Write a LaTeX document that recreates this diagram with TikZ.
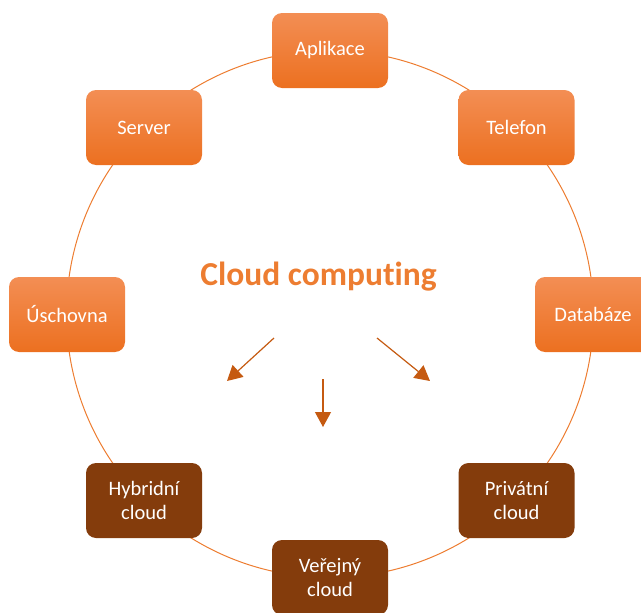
\documentclass[tikz,border=0pt]{standalone}
\usepackage{fontspec}
\setmainfont{Carlito}
\newfontfamily\titlefont{Carlito}[Ligatures=NoCommon]
\usetikzlibrary{arrows.meta}
\definecolor{ringc}{RGB}{237,125,49}
\definecolor{brownc}{RGB}{132,60,12}
\definecolor{arrc}{RGB}{197,90,17}
\definecolor{otop}{RGB}{243,142,84}
\definecolor{obot}{RGB}{236,112,32}
\definecolor{titlec}{RGB}{237,125,49}
\tikzset{
  box/.style={rectangle, rounded corners=10pt, minimum width=116pt, minimum height=75pt,
    inner sep=0pt, align=center, text=white, font=\fontsize{20.5}{24}\selectfont},
  obox/.style={box, top color=otop, bottom color=obot, draw=none},
  bbox/.style={box, fill=brownc, draw=none},
  ring/.style={draw=ringc, line width=1pt},
  arr/.style={draw=arrc, line width=1.2pt, -{Triangle[length=15pt,width=16pt]}}
}
\begin{document}
\begin{tikzpicture}[x=1pt,y=-1pt]
\useasboundingbox (0,0) rectangle (641,613);
\draw[ring] (330,314) circle (263.5pt);
\node[obox] (apl) at (330,50.5) {Aplikace};
\node[obox] (srv) at (144,127.5) {Server};
\node[obox] (tel) at (516.5,127.5) {Telefon};
\node[obox] (usch) at (67,314.5) {Úschovna};
\node[obox] (db) at (593,314.5) {Databáze};
\node[bbox] (hyb) at (144,500.5) {Hybridní\\cloud};
\node[bbox] (pri) at (516.5,500.5) {Privátní\\cloud};
\node[bbox] (ver) at (330,577.5) {Veřejný\\cloud};
\node[text=titlec, font=\titlefont\bfseries\fontsize{33.5}{38}\selectfont, anchor=base] (title) at (318.5,285) {Cloud computing};
\coordinate (a1s) at (274,338);
\coordinate (a1e) at (227,381);
\coordinate (a2s) at (323,379);
\coordinate (a2e) at (323,427);
\coordinate (a3s) at (377,338);
\coordinate (a3e) at (430,381);
\draw[arr] (a1s) -- (a1e);
\draw[arr] (a2s) -- (a2e);
\draw[arr] (a3s) -- (a3e);
\end{tikzpicture}
\end{document}
